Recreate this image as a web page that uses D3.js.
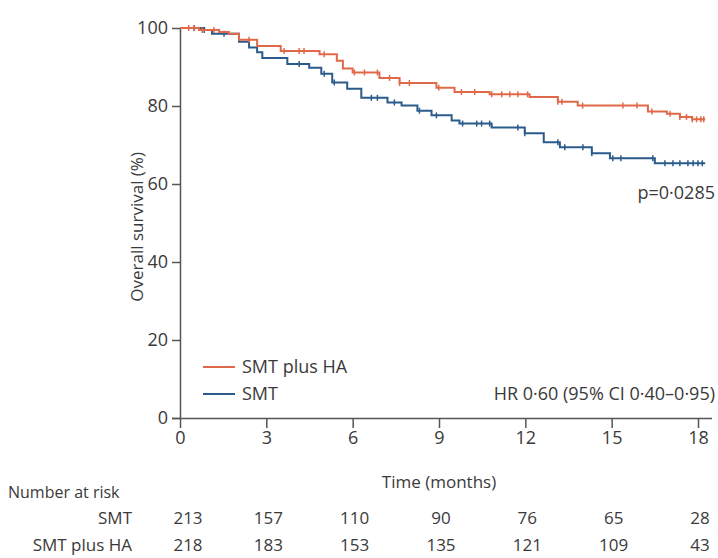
<!DOCTYPE html>
<html>
<head>
<meta charset="utf-8">
<script src="https://cdn.jsdelivr.net/npm/d3@7/dist/d3.min.js"></script>
<style>
  body { margin: 0; background: #fff; }
  svg text { font-family: "Open Sans", Lato, sans-serif; fill: #3a3a3a; }
</style>
</head>
<body>
<svg id="chart" width="718" height="558"></svg>
<script>
// KM steps (months, % surviving)
const haTimes = [0, 0.66, 1.36, 1.7, 2.05, 2.68, 3.5, 4.85, 5.45, 5.66, 6.0, 6.93, 7.63, 8.91, 9.54, 10.76, 12.15, 13.13, 13.82, 16.26, 16.92, 17.37, 17.8, 18.25];
const haSurv  = [100, 99.5, 99, 98.5, 97, 95.4, 94.1, 93.3, 91.6, 89.6, 88.6, 87.2, 85.9, 84.7, 83.6, 83, 82.3, 81.1, 80.1, 78.6, 78, 77.2, 76.6, 76.6];
const smtTimes = [0, 0.84, 1.11, 2.05, 2.4, 2.68, 2.86, 3.73, 4.49, 4.91, 5.29, 5.81, 6.3, 7.21, 7.7, 8.25, 8.74, 9.44, 9.71, 10.83, 11.98, 12.64, 13.2, 14.31, 14.94, 16.5, 18.25];
const smtSurv  = [100, 99.5, 98.5, 96.5, 95, 93.8, 92.3, 90.8, 89.8, 88.3, 86, 84.4, 82.1, 80.9, 80.1, 78.8, 77.6, 76.3, 75.5, 74.5, 73, 70.7, 69.4, 67.9, 66.6, 65.3, 65.3];

// censoring ticks
const haCensor = [0.3, 0.5, 0.77, 1.18, 2.4, 3.62, 4.14, 4.31, 5.01, 6.06, 6.41, 6.86, 7.28, 7.63, 7.97, 8.99, 9.78, 10.24, 10.83, 11.18, 11.46, 11.74, 12.08, 13.13, 13.27, 13.99, 15.39, 15.88, 16.4, 17.03, 17.37, 17.6, 17.8, 17.95, 18.1, 18.2];
const smtCensor = [0.49, 0.84, 1.53, 4.14, 5.01, 5.36, 6.65, 6.86, 7.45, 8.32, 8.91, 9.82, 10.31, 10.48, 10.76, 11.74, 11.98, 13.13, 13.37, 14.0, 14.31, 15.04, 15.32, 16.43, 16.85, 17.13, 17.37, 17.65, 17.83, 18.0, 18.15];

const xTicks = [0, 3, 6, 9, 12, 15, 18];
const yTicks = [0, 20, 40, 60, 80, 100];

const riskGroups = ["SMT", "SMT plus HA"];
const riskSMT = [213, 157, 110, 90, 76, 65, 28];
const riskHA  = [218, 183, 153, 135, 121, 109, 43];

const colHA = "#e0694a";
const colSMT = "#2a5b8a";

const svg = d3.select("#chart");

const x = d3.scaleLinear().domain([0, 18]).range([180, 698]);
const y = d3.scaleLinear().domain([0, 100]).range([418, 28]);

const g = svg.append("g");

// axes
const xAxis = g.append("g")
    .attr("transform", `translate(0,${y(0)})`)
    .call(d3.axisBottom(x).tickValues(xTicks).tickSize(10).tickPadding(3));
xAxis.select(".domain").attr("d", `M${x(0) - 8},0.5H712`);

const yAxis = g.append("g")
    .attr("transform", `translate(${x(0)},0)`)
    .call(d3.axisLeft(y).tickValues(yTicks).tickSize(8).tickPadding(4));
yAxis.select(".domain").attr("d", `M0.5,${y(0)}V${y(100)}`);

g.selectAll(".domain, .tick line").attr("stroke", "#555").attr("stroke-width", 1.5);
g.selectAll(".tick text").style("font-size", "18px").attr("fill", "#3a3a3a");

// curves
const line = d3.line()
    .x(d => x(d[0]))
    .y(d => y(d[1]))
    .curve(d3.curveStepAfter);

function stepValue(times, surv, t) {
    const i = d3.bisectRight(times, t) - 1;
    return surv[Math.max(0, i)];
}

function drawSeries(times, surv, censor, color) {
    const pts = times.map((t, i) => [t, surv[i]]);
    g.append("path")
        .attr("d", line(pts))
        .attr("fill", "none")
        .attr("stroke", color)
        .attr("stroke-width", 2);
    g.append("g").selectAll("line")
        .data(censor)
        .enter().append("line")
        .attr("x1", d => x(d)).attr("x2", d => x(d))
        .attr("y1", d => y(stepValue(times, surv, d)) - 3)
        .attr("y2", d => y(stepValue(times, surv, d)) + 3)
        .attr("stroke", color)
        .attr("stroke-width", 1.5);
}

drawSeries(smtTimes, smtSurv, smtCensor, colSMT);
drawSeries(haTimes, haSurv, haCensor, colHA);

// y label
svg.append("text")
    .attr("transform", `translate(143,${y(49)}) rotate(-90)`)
    .attr("text-anchor", "middle")
    .style("font-size", "17px")
    .text("Overall survival (%)");

// legend
const legend = [["SMT plus HA", colHA], ["SMT", colSMT]];
legend.forEach((d, i) => {
    const ly = 367 + i * 27;
    svg.append("line")
        .attr("x1", 203).attr("x2", 235)
        .attr("y1", ly).attr("y2", ly)
        .attr("stroke", d[1]).attr("stroke-width", 2);
    svg.append("text")
        .attr("x", 242).attr("y", ly + 6)
        .style("font-size", "18px")
        .text(d[0]);
});

svg.append("text")
    .attr("x", 715).attr("y", 400)
    .attr("text-anchor", "end")
    .style("font-size", "18px")
    .text("HR 0·60 (95% CI 0·40–0·95)");

svg.append("text")
    .attr("x", 715).attr("y", 199)
    .attr("text-anchor", "end")
    .style("font-size", "18px")
    .text("p=0·0285");

svg.append("text")
    .attr("x", x(9)).attr("y", 488)
    .attr("text-anchor", "middle")
    .style("font-size", "17px")
    .text("Time (months)");

// number at risk table
svg.append("text")
    .attr("x", 8).attr("y", 498)
    .style("font-size", "16px")
    .attr("fill", "#222")
    .text("Number at risk");

[riskSMT, riskHA].forEach((row, r) => {
    const ry = 524 + r * 27;
    svg.append("text")
        .attr("x", 132).attr("y", ry)
        .attr("text-anchor", "end")
        .style("font-size", "17px")
        .text(riskGroups[r]);
    svg.append("g").selectAll("text")
        .data(row)
        .enter().append("text")
        .attr("x", (d, i) => x(xTicks[i]) + (i === 0 ? 8 : 2))
        .attr("y", ry)
        .attr("text-anchor", "middle")
        .style("font-size", "17px")
        .text(d => d);
});
</script>
</body>
</html>
